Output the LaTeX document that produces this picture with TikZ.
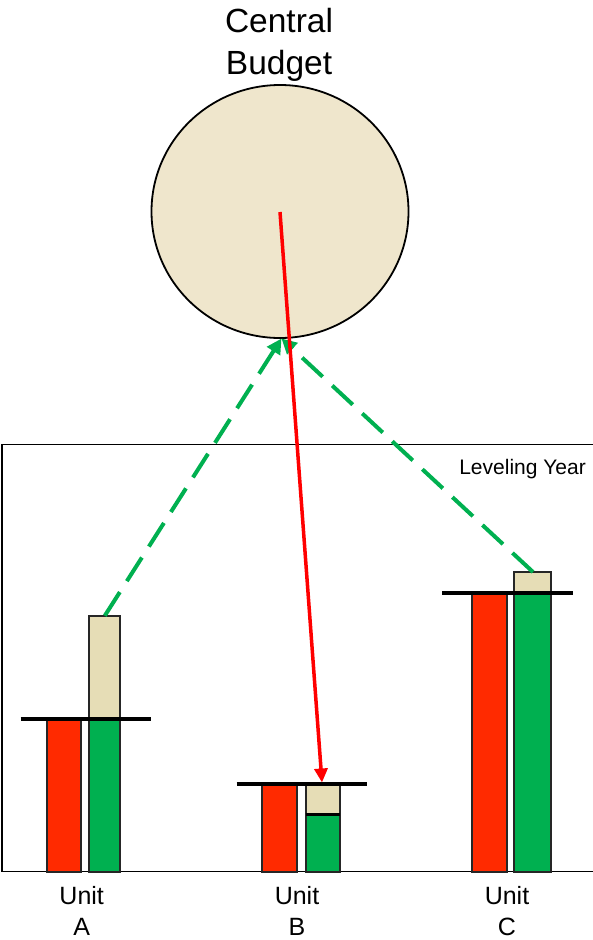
\documentclass[tikz,border=0pt]{standalone}
\usepackage{fontspec}
\setmainfont{Liberation Sans}
\usetikzlibrary{arrows.meta}
\definecolor{barred}{HTML}{FF2A00}
\definecolor{bargreen}{HTML}{00B050}
\definecolor{barbeige}{HTML}{E6DDB6}
\definecolor{circbeige}{HTML}{EFE6CC}
\definecolor{arrred}{HTML}{FF0000}
\tikzset{
  bar/.style={draw=black!85, line width=2pt},
  level/.style={draw=black, line width=4pt},
  flow/.style={draw=bargreen, line width=4pt, dash pattern=on 28pt off 13pt, -{Triangle[length=15pt,width=15pt]}},
  alloc/.style={draw=arrred, line width=3.5pt, -{Triangle[length=14pt,width=13pt]}},
  lbl/.style={anchor=base, inner sep=0pt, font=\fontsize{25}{30}\selectfont, align=center}
}
\begin{document}
\begin{tikzpicture}[x=1pt,y=-1pt]
\useasboundingbox (0,0) rectangle (592,940);
% frame
\draw[line width=1.8pt] (594,444.5) -- (2,444.5) -- (2,871.5) -- (594,871.5);
\node[anchor=base east, inner sep=0pt, font=\fontsize{21}{24}\selectfont] (ly) at (586,474) {Leveling Year};
% central budget
\draw[fill=circbeige, line width=1.8pt] (280,211.5) ellipse [x radius=128.5, y radius=126.5];
\coordinate (cbc) at (280,212);
\coordinate (cbb) at (281.5,338.5);
\node[anchor=base, inner sep=0pt, font=\fontsize{33.5}{42}\selectfont] (cbt1) at (279,32) {Central};
\node[anchor=base, inner sep=0pt, font=\fontsize{33.5}{42}\selectfont] (cbt2) at (279,74) {Budget};
% Unit A
\path[bar, fill=barred] (46.7,719) rectangle (81.3,871.5);
\path[bar, fill=bargreen] (89.3,719) rectangle (120.3,871.5);
\path[bar, fill=barbeige] (89.3,615.7) rectangle (120.3,719);
\draw[level] (20.7,719) -- (150.7,719);
\coordinate (atop) at (104.8,615.7);
\node[lbl] (ua) at (81.7,904) {Unit};
\node[lbl] (uaa) at (81.7,935) {A};
% Unit B
\path[bar, fill=barred] (262.3,784) rectangle (297.3,871.5);
\path[bar, fill=barbeige] (305.7,784) rectangle (340,814);
\path[bar, fill=bargreen] (305.7,814) rectangle (340,871.5);
\draw[line width=3pt] (305.7,814) -- (340,814);
\draw[level] (236.7,784.3) -- (367.3,784.3);
\coordinate (btop) at (322,782.5);
\node[lbl] (ub) at (297,904) {Unit};
\node[lbl] (ubb) at (297,935) {B};
% Unit C
\path[bar, fill=barred] (471.7,593.3) rectangle (506.7,871.5);
\path[bar, fill=bargreen] (514,593.3) rectangle (550.7,871.5);
\path[bar, fill=barbeige] (514,572) rectangle (550.7,593.3);
\draw[level] (442,593.3) -- (572.7,593.3);
\coordinate (ctop) at (533,572);
\node[lbl] (uc) at (507,904) {Unit};
\node[lbl] (ucc) at (507,935) {C};
% connectors
\draw[flow] (atop) -- (cbb);
\draw[flow] (ctop) -- (cbb);
\draw[alloc] (cbc) -- (btop);
\end{tikzpicture}
\end{document}
